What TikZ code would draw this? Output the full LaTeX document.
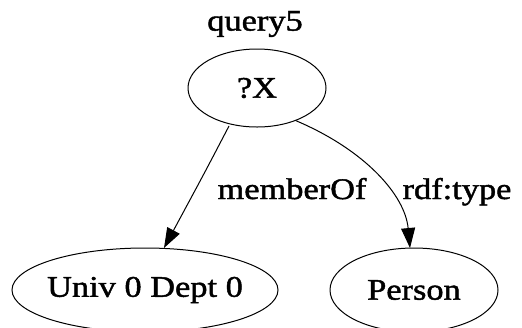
\documentclass[tikz,border=0pt]{standalone}
\usepackage{fontspec}
\setmainfont{Liberation Serif}[FakeStretch=1.15,FakeBold=1.5]
\usetikzlibrary{arrows.meta,shapes.geometric}
\begin{document}
\begin{tikzpicture}[x=1bp,y=-1bp,
  vertex/.style={draw,ellipse,line width=1bp,inner sep=0pt},
  lbl/.style={font=\fontsize{30}{32}\selectfont,inner sep=0pt},
  edge/.style={line width=1bp,-{Triangle[length=20bp,width=14bp]}}]
  \useasboundingbox[fill=white] (0,0) rectangle (522,327);
  \node[lbl] (title) at (255,24) {query5};
  \node[vertex,minimum width=138bp,minimum height=78bp] (x) at (257,88) {};
  \node[lbl] at (x) {?X};
  \node[vertex,minimum width=266bp,minimum height=84bp] (u) at (145,290) {};
  \node[lbl] at (u) {Univ 0 Dept 0};
  \node[vertex,minimum width=168bp,minimum height=84bp] (p) at (414,290) {};
  \node[lbl] at (p) {Person};
  \coordinate (xs) at (229,126);
  \coordinate (us) at (164,248);
  \coordinate (ps) at (410,248);
  \draw[edge] (xs) .. controls (205,172) .. (us);
  \draw[edge] (x.-40) .. controls (365,150) and (405,195) .. (ps);
  \node[lbl,anchor=base] (m) at (292,199) {memberOf};
  \node[lbl,anchor=base] (r) at (457,199) {rdf:type};
\end{tikzpicture}
\end{document}
